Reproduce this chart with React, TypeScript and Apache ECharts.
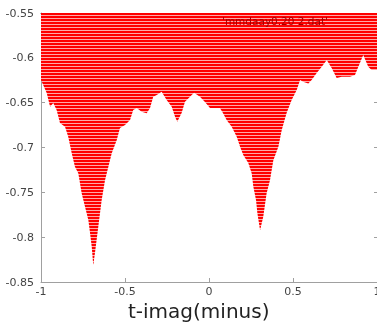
import React, { useEffect, useRef } from "react";
import * as echarts from "echarts";

const xValues = [-1, -0.966, -0.946, -0.927, -0.907, -0.887, -0.857, -0.838, -0.817, -0.798, -0.778, -0.758, -0.738, -0.718, -0.708, -0.698, -0.689, -0.679, -0.659, -0.639, -0.619, -0.599, -0.579, -0.549, -0.53, -0.5, -0.47, -0.451, -0.43, -0.401, -0.371, -0.351, -0.332, -0.311, -0.282, -0.252, -0.222, -0.202, -0.189, -0.163, -0.143, -0.113, -0.089, -0.054, -0.024, 0.006, 0.065, 0.083, 0.105, 0.135, 0.165, 0.185, 0.204, 0.234, 0.254, 0.264, 0.28, 0.288, 0.304, 0.323, 0.343, 0.363, 0.383, 0.413, 0.433, 0.462, 0.492, 0.522, 0.542, 0.56, 0.591, 0.611, 0.641, 0.671, 0.701, 0.73, 0.76, 0.79, 0.839, 0.869, 0.889, 0.918, 0.948, 0.968, 1.0];
const yValues = [-0.6248, -0.6393, -0.6546, -0.6504, -0.6583, -0.6728, -0.6769, -0.6881, -0.7063, -0.7215, -0.7286, -0.7509, -0.7662, -0.781, -0.7955, -0.8108, -0.8313, -0.8179, -0.7885, -0.7587, -0.7364, -0.7215, -0.7063, -0.6917, -0.6783, -0.675, -0.6694, -0.6583, -0.656, -0.6602, -0.6619, -0.656, -0.6434, -0.6415, -0.6378, -0.6471, -0.6546, -0.6657, -0.6713, -0.6616, -0.649, -0.6434, -0.639, -0.6434, -0.6493, -0.656, -0.656, -0.6616, -0.6694, -0.6769, -0.6881, -0.6992, -0.7085, -0.7174, -0.7286, -0.7439, -0.7587, -0.7732, -0.7922, -0.7773, -0.7509, -0.7364, -0.7141, -0.6992, -0.6806, -0.6616, -0.6471, -0.6359, -0.6248, -0.6267, -0.6285, -0.6248, -0.617, -0.6099, -0.6025, -0.6114, -0.6225, -0.6211, -0.6211, -0.6192, -0.6099, -0.5969, -0.6099, -0.6136, -0.6136];

const seriesName = "'mmdaay0.20 2.dat'";
const xLabel = "t-imag(minus)";

export default function App() {
  const ref = useRef<HTMLDivElement>(null);
  useEffect(() => {
    if (!ref.current) return;
    const chart = echarts.init(ref.current, undefined, { renderer: "svg" });
    const top = 13;
    const bottom = 282;
    const stops: { offset: number; color: string }[] = [];
    const h = bottom - top;
    for (let p = 0; p < h; p += 3) {
      const a = p / h;
      const b = Math.min((p + 2) / h, 1);
      const c = Math.min((p + 3) / h, 1);
      stops.push({ offset: a, color: "#ff0000" });
      stops.push({ offset: b, color: "#ff0000" });
      stops.push({ offset: b, color: "#ffa8a8" });
      stops.push({ offset: c, color: "#ffa8a8" });
    }
    const fill = new echarts.graphic.LinearGradient(0, top, 0, bottom, stops, true);
    const data = xValues.map((x, i) => [x, yValues[i]]);
    chart.setOption({
      animation: false,
      grid: { left: 41, right: 0, top: 13, bottom: 43, containLabel: false, outerBoundsMode: "none" },
      xAxis: [
        {
          type: "value",
          min: -1,
          max: 1,
          interval: 0.5,
          axisLine: { show: true, onZero: false, lineStyle: { color: "#a0a0a0", width: 1 } },
          axisTick: { show: true, inside: true, length: 4, lineStyle: { color: "#a0a0a0" } },
          axisLabel: { color: "#444", fontSize: 11, fontFamily: "DejaVu Sans", margin: 4 },
          splitLine: { show: false },
        },
        {
          type: "value",
          position: "top",
          min: -1,
          max: 1,
          interval: 0.5,
          axisLine: { show: true, onZero: false, lineStyle: { color: "#555", width: 1 } },
          axisTick: { show: false },
          axisLabel: { show: false },
          splitLine: { show: false },
        },
      ],
      yAxis: [
        {
          type: "value",
          min: -0.85,
          max: -0.55,
          interval: 0.05,
          axisLine: { show: true, onZero: false, lineStyle: { color: "#a0a0a0", width: 1 } },
          axisTick: { show: true, inside: true, length: 4, lineStyle: { color: "#a0a0a0" } },
          axisLabel: { color: "#444", fontSize: 11, fontFamily: "DejaVu Sans", margin: 7 },
          splitLine: { show: false },
        },
        {
          type: "value",
          position: "right",
          min: -0.85,
          max: -0.55,
          interval: 0.05,
          axisLine: { show: false, onZero: false },
          axisTick: { show: true, inside: true, length: 3, lineStyle: { color: "#a0a0a0" } },
          axisLabel: { show: false },
          splitLine: { show: false },
        },
      ],
      series: [
        {
          type: "line",
          name: seriesName,
          data,
          showSymbol: false,
          lineStyle: { width: 0 },
          areaStyle: { origin: "end", color: fill, opacity: 1 },
        },
      ],
      graphic: [
        {
          type: "text",
          left: 222,
          top: 15,
          style: { text: seriesName, fill: "#a00000", fontSize: 10.5, fontFamily: "DejaVu Sans" },
          z: 100,
        },
        {
          type: "text",
          left: 128,
          top: 301,
          style: { text: xLabel, fill: "#222", fontSize: 20, fontFamily: "DejaVu Sans" },
        },
      ],
    });
    return () => chart.dispose();
  }, []);
  return <div ref={ref} style={{ position: "fixed", left: 0, top: 0, width: 377, height: 325 }} />;
}
